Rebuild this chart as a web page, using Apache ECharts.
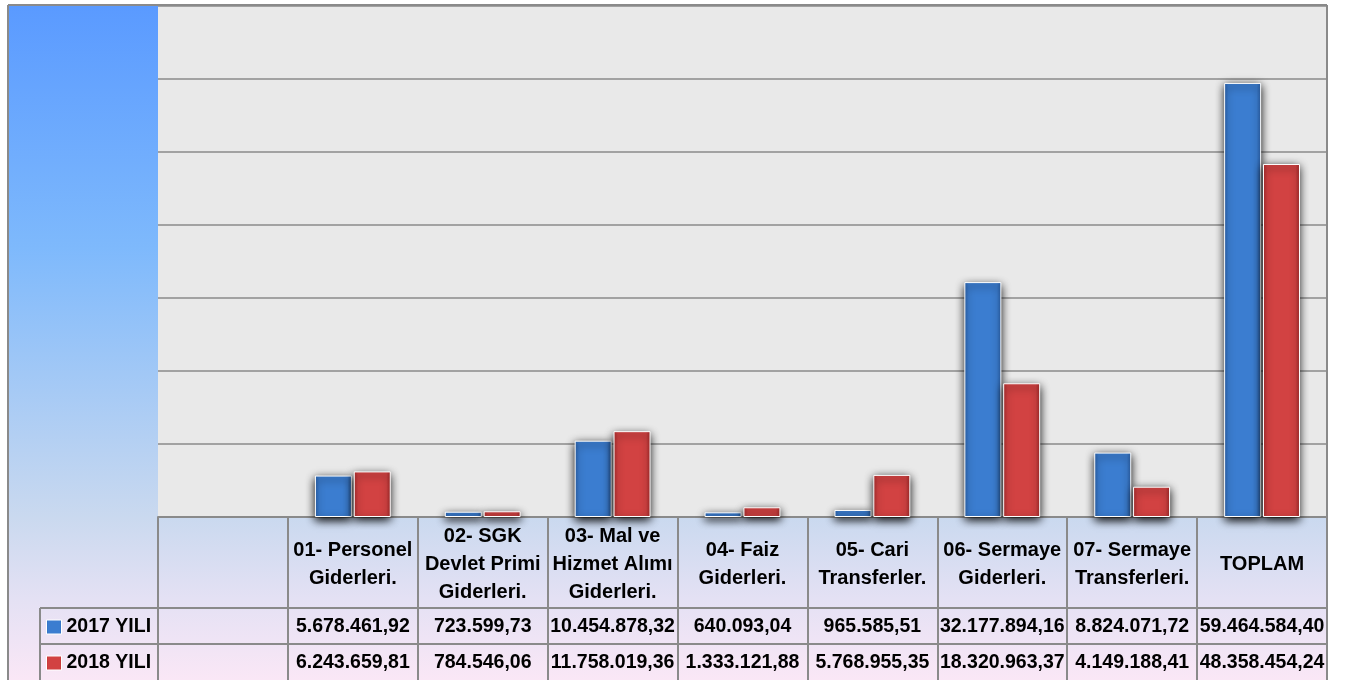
<!DOCTYPE html>
<html>
<head>
<meta charset="utf-8">
<script src="https://cdn.jsdelivr.net/npm/echarts@6/dist/echarts.min.js"></script>
<style>html,body{margin:0;padding:0;background:#fff;}#c{width:1346px;height:680px;}</style>
</head>
<body>
<div id="c"></div>
<script>
const categories = ['', '01- Personel\nGiderleri.', '02- SGK\nDevlet Primi\nGiderleri.', '03- Mal ve\nHizmet Alımı\nGiderleri.', '04- Faiz\nGiderleri.', '05- Cari\nTransferler.', '06- Sermaye\nGiderleri.', '07- Sermaye\nTransferleri.', 'TOPLAM'];
const seriesNames = ['2017 YILI', '2018 YILI'];
const values2017 = [null, 5678461.92, 723599.73, 10454878.32, 640093.04, 965585.51, 32177894.16, 8824071.72, 59464584.40];
const values2018 = [null, 6243659.81, 784546.06, 11758019.36, 1333121.88, 5768955.35, 18320963.37, 4149188.41, 48358454.24];
const yTicks = [0, 10000000, 20000000, 30000000, 40000000, 50000000, 60000000, 70000000];

function fmtTR(v) {
  if (v === null || v === undefined) return '';
  const parts = v.toFixed(2).split('.');
  const intPart = parts[0].replace(/\B(?=(\d{3})+(?!\d))/g, '.');
  return intPart + ',' + parts[1];
}

const FONT = '"Liberation Sans", Arial, sans-serif';
const LINE = '#8a8a8a';

const blueFill = new echarts.graphic.LinearGradient(0, 0, 1, 0, [
  {offset: 0, color: '#2c63ad'}, {offset: 0.12, color: '#3b7dd0'},
  {offset: 0.88, color: '#3b7dd0'}, {offset: 1, color: '#2a5ea4'}
]);
const redFill = new echarts.graphic.LinearGradient(0, 0, 1, 0, [
  {offset: 0, color: '#ad2d2d'}, {offset: 0.12, color: '#d24242'},
  {offset: 0.88, color: '#d24242'}, {offset: 1, color: '#a22828'}
]);

const chart = echarts.init(document.getElementById('c'), null, {renderer: 'canvas'});

const valueAxis = (arr, margin) => ({
  type: 'category', data: categories, position: 'bottom', gridIndex: 0,
  axisLine: {show: false}, axisTick: {show: false}, splitLine: {show: false},
  axisLabel: {
    interval: 0, margin: margin, verticalAlign: 'middle',
    fontFamily: FONT, fontSize: 19.5, fontWeight: 'bold', color: '#000',
    formatter: (val, idx) => fmtTR(arr[idx])
  }
});

chart.setOption({
  animation: false,
  graphic: [
    {type: 'rect', z: -100, silent: true, shape: {x: 8, y: 5, width: 1319, height: 675},
      style: {fill: new echarts.graphic.LinearGradient(0, 0, 0, 1, [
        {offset: 0, color: '#5a9aff'}, {offset: 0.36, color: '#7eb9fc'},
        {offset: 0.76, color: '#cad9ef'}, {offset: 0.88, color: '#e4e1f4'},
        {offset: 1, color: '#fae7f6'}])}},
    {type: 'line', z: 100, silent: true, shape: {x1: 8, y1: 5, x2: 8, y2: 680}, style: {stroke: LINE, lineWidth: 2}},
    {type: 'line', z: 100, silent: true, shape: {x1: 8, y1: 5, x2: 1327, y2: 5}, style: {stroke: LINE, lineWidth: 2}},
    {type: 'line', z: 100, silent: true, shape: {x1: 1327, y1: 5, x2: 1327, y2: 680}, style: {stroke: LINE, lineWidth: 2}},
    {type: 'line', z: 100, silent: true, shape: {x1: 40, y1: 608, x2: 1327, y2: 608}, style: {stroke: LINE, lineWidth: 2}},
    {type: 'line', z: 100, silent: true, shape: {x1: 40, y1: 644, x2: 1327, y2: 644}, style: {stroke: LINE, lineWidth: 2}},
    {type: 'line', z: 100, silent: true, shape: {x1: 40, y1: 608, x2: 40, y2: 680}, style: {stroke: LINE, lineWidth: 2}}
  ],
  grid: {left: 158, right: 19, top: 6, bottom: 163, show: true, backgroundColor: '#e9e9e9', borderWidth: 0, containLabel: false},
  legend: {
    data: seriesNames, orient: 'vertical', left: 46, top: 617, padding: 0,
    itemWidth: 15, itemHeight: 14, itemGap: 16, icon: 'rect',
    itemStyle: {shadowBlur: 0, borderColor: '#fff', borderWidth: 1},
    textStyle: {fontFamily: FONT, fontSize: 19.5, fontWeight: 'bold', color: '#000', lineHeight: 20}
  },
  xAxis: [
    {
      type: 'category', data: categories, position: 'bottom', gridIndex: 0,
      axisLine: {show: true, lineStyle: {color: LINE, width: 2}},
      axisTick: {show: true, interval: 0, length: 163, lineStyle: {color: LINE, width: 2}},
      axisLabel: {interval: 0, margin: 47, verticalAlign: 'middle', align: 'center',
        fontFamily: FONT, fontSize: 20, fontWeight: 'bold', color: '#000', lineHeight: 28}
    },
    valueAxis(values2017, 110),
    valueAxis(values2018, 146)
  ],
  yAxis: {
    type: 'value', min: yTicks[0], max: yTicks[yTicks.length - 1], interval: yTicks[1] - yTicks[0],
    axisLabel: {show: false}, axisLine: {show: false}, axisTick: {show: false},
    splitLine: {show: true, lineStyle: {color: LINE, width: 1.5}}
  },
  series: [
    {name: seriesNames[0], type: 'bar', data: values2017, barWidth: 37, barGap: '5%',
      itemStyle: {color: blueFill, borderColor: '#ffffff', borderWidth: 1, shadowColor: '#000', shadowBlur: 9, shadowOffsetY: 3}},
    {name: seriesNames[1], type: 'bar', data: values2018, barWidth: 37, barGap: '5%',
      itemStyle: {color: redFill, borderColor: '#ffffff', borderWidth: 1, shadowColor: '#000', shadowBlur: 9, shadowOffsetY: 3}}
  ]
});
</script>
</body>
</html>
